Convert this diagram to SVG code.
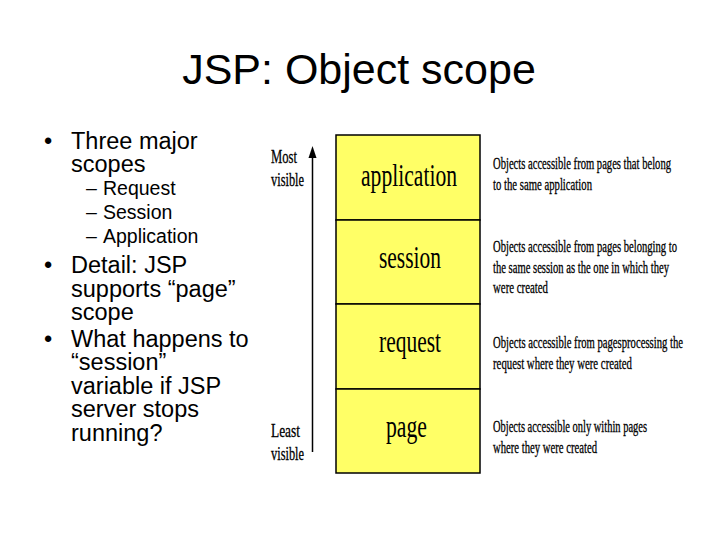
<svg xmlns="http://www.w3.org/2000/svg" width="720" height="540" viewBox="0 0 720 540">
<style>
.title{font-family:"Liberation Sans",Arial,sans-serif;font-size:43px;fill:#000}
.b1{font-family:"Liberation Sans",Arial,sans-serif;font-size:23.5px;fill:#000}
.b2{font-family:"Liberation Sans",Arial,sans-serif;font-size:19.5px;fill:#000}
.big{font-family:"Liberation Serif","Times New Roman",serif;font-size:31px;fill:#000}
.lab{font-family:"Liberation Serif","Times New Roman",serif;font-size:18px;fill:#000;stroke:#000;stroke-width:0.3}
.desc{font-family:"Liberation Serif","Times New Roman",serif;font-size:16.5px;fill:#000;stroke:#000;stroke-width:0.3}
.cell{fill:#FFFF66;stroke:#000;stroke-width:1.5}
</style>
<rect width="720" height="540" fill="#fff"/>
<text class="title" x="359" y="84" text-anchor="middle">JSP: Object scope</text>
<g id="bullets">
<text class="b1" x="44" y="149">•</text>
<text class="b1" x="71" y="149">Three major</text>
<text class="b1" x="71" y="172">scopes</text>
<text class="b2" x="86" y="195">–</text>
<text class="b2" x="103" y="195">Request</text>
<text class="b2" x="86" y="219">–</text>
<text class="b2" x="103" y="219">Session</text>
<text class="b2" x="86" y="243">–</text>
<text class="b2" x="103" y="243">Application</text>
<text class="b1" x="44" y="273">•</text>
<text class="b1" x="71" y="273">Detail: JSP</text>
<text class="b1" x="71" y="296.5">supports “page”</text>
<text class="b1" x="71" y="320">scope</text>
<text class="b1" x="44" y="346.5">•</text>
<text class="b1" x="71" y="346.5">What happens to</text>
<text class="b1" x="71" y="370">“session”</text>
<text class="b1" x="71" y="393.5">variable if JSP</text>
<text class="b1" x="71" y="417">server stops</text>
<text class="b1" x="71" y="440.5">running?</text>
</g>
<g id="connectors">
<line x1="312.5" y1="452" x2="312.5" y2="156" stroke="#000" stroke-width="1.5"/>
<polygon points="312.5,146 308.5,158 316.5,158" fill="#000"/>
</g>
<g id="axis-labels">
<text class="lab" x="271" y="163" textLength="26" lengthAdjust="spacingAndGlyphs">Most</text>
<text class="lab" x="271" y="186" textLength="33" lengthAdjust="spacingAndGlyphs">visible</text>
<text class="lab" x="271" y="437" textLength="29" lengthAdjust="spacingAndGlyphs">Least</text>
<text class="lab" x="271" y="460" textLength="33" lengthAdjust="spacingAndGlyphs">visible</text>
</g>
<g id="application">
<rect class="cell" x="336" y="135" width="144" height="85"/>
<text class="big" x="361" y="186" textLength="96" lengthAdjust="spacingAndGlyphs">application</text>
<text class="desc" x="493" y="169" textLength="178" lengthAdjust="spacingAndGlyphs">Objects accessible from pages that belong</text>
<text class="desc" x="493" y="190" textLength="99" lengthAdjust="spacingAndGlyphs">to the same application</text>
</g>
<g id="session">
<rect class="cell" x="336" y="220" width="144" height="84"/>
<text class="big" x="379" y="268" textLength="62" lengthAdjust="spacingAndGlyphs">session</text>
<text class="desc" x="493" y="252" textLength="184" lengthAdjust="spacingAndGlyphs">Objects accessible from pages belonging to</text>
<text class="desc" x="493" y="273" textLength="176" lengthAdjust="spacingAndGlyphs">the same session as the one in which they</text>
<text class="desc" x="493" y="293" textLength="55" lengthAdjust="spacingAndGlyphs">were created</text>
</g>
<g id="request">
<rect class="cell" x="336" y="304" width="144" height="85"/>
<text class="big" x="379" y="352" textLength="62" lengthAdjust="spacingAndGlyphs">request</text>
<text class="desc" x="493" y="348" textLength="190" lengthAdjust="spacingAndGlyphs">Objects accessible from pagesprocessing the</text>
<text class="desc" x="493" y="369" textLength="139" lengthAdjust="spacingAndGlyphs">request where they were created</text>
</g>
<g id="page">
<rect class="cell" x="336" y="389" width="144" height="84"/>
<text class="big" x="386" y="437" textLength="41" lengthAdjust="spacingAndGlyphs">page</text>
<text class="desc" x="493" y="432" textLength="154" lengthAdjust="spacingAndGlyphs">Objects accessible only within pages</text>
<text class="desc" x="493" y="453" textLength="104" lengthAdjust="spacingAndGlyphs">where they were created</text>
</g>
</svg>
